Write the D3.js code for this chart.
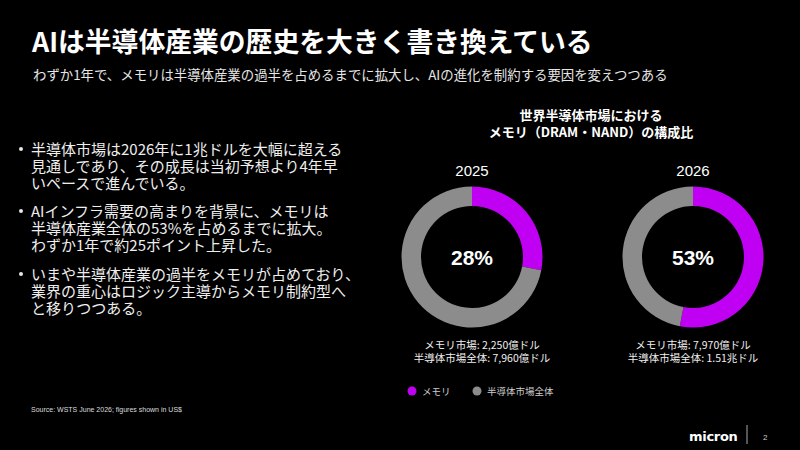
<!DOCTYPE html>
<html>
<head>
<meta charset="utf-8">
<script src="https://cdn.jsdelivr.net/npm/d3@7"></script>
<style>
  body { margin: 0; background: #000; }
  svg { display: block; }
  text { font-family: "Noto Sans CJK JP", "Noto Sans", sans-serif; fill: #fff; }
</style>
</head>
<body>
<div class="chart"></div>
<script>
var svgWidth = 800;
var svgHeight = 450;

// data
var years = ["2025", "2026"];
var memoryShare = [28, 53];
var memoryMarket = ["2,250億ドル", "7,970億ドル"];
var totalMarket = ["7,960億ドル", "1.51兆ドル"];
var legendLabels = ["メモリ", "半導体市場全体"];

var bullets = [
    ["半導体市場は2026年に1兆ドルを大幅に超える", "見通しであり、その成長は当初予想より4年早", "いペースで進んでいる。"],
    ["AIインフラ需要の高まりを背景に、メモリは", "半導体産業全体の53%を占めるまでに拡大。", "わずか1年で約25ポイント上昇した。"],
    ["いまや半導体産業の過半をメモリが占めており、", "業界の重心はロジック主導からメモリ制約型へ", "と移りつつある。"]
];

var svg = d3.select(".chart")
    .append("svg")
    .attr("width", svgWidth)
    .attr("height", svgHeight);

svg.append("rect").attr("width", svgWidth).attr("height", svgHeight).attr("fill", "#000");

// multi-line text as one <text> with tspans
function multiline(sel, lines, x, lh) {
    sel.selectAll("tspan")
        .data(lines)
        .enter()
        .append("tspan")
        .attr("x", x)
        .attr("dy", (d, i) => i === 0 ? 0 : lh)
        .text(d => d);
    return sel;
}

// headline + subtitle
svg.append("text")
    .attr("x", 32).attr("y", 52)
    .style("font-size", "26.8px").style("font-weight", "bold")
    .text("AIは半導体産業の歴史を大きく書き換えている");

svg.append("text")
    .attr("x", 33).attr("y", 80)
    .style("font-size", "13.4px").style("fill", "#e6e6e6")
    .text("わずか1年で、メモリは半導体産業の過半を占めるまでに拡大し、AIの進化を制約する要因を変えつつある");

// bullet list
var bulletTop = [155, 217, 280];
bullets.forEach(function (lines, i) {
    svg.append("circle")
        .attr("cx", 21).attr("cy", bulletTop[i] - 6)
        .attr("r", 2).attr("fill", "#e6e6e6");
    var t = svg.append("text")
        .attr("x", 31).attr("y", bulletTop[i])
        .style("font-size", "15px").style("fill", "#eeeeee");
    multiline(t, lines, 31, 16.8);
});

// chart title
var title = svg.append("text")
    .attr("x", 591).attr("y", 120)
    .attr("text-anchor", "middle")
    .style("font-size", "13px").style("font-weight", "bold");
multiline(title, ["世界半導体市場における", "メモリ（DRAM・NAND）の構成比"], 591, 17);

// donuts
var color = d3.scaleOrdinal()
    .domain(["memory", "rest"])
    .range(["#c000f2", "#8c8c8c"]);

var xPos = d3.scalePoint()
    .domain(years)
    .range([472, 693]);

var pie = d3.pie().sort(null).value(d => d.value);
var arc = d3.arc().innerRadius(51).outerRadius(70.5);

years.forEach(function (year, i) {
    var cx = xPos(year);
    var cy = 257;
    var g = svg.append("g").attr("transform", `translate(${cx}, ${cy})`);

    var slices = [
        { key: "memory", value: memoryShare[i] },
        { key: "rest", value: 100 - memoryShare[i] }
    ];

    g.selectAll("path")
        .data(pie(slices))
        .enter()
        .append("path")
        .attr("d", arc)
        .attr("fill", d => color(d.data.key));

    g.append("text")
        .attr("text-anchor", "middle")
        .attr("y", 8)
        .style("font-family", "Arial, 'Liberation Sans', sans-serif")
        .style("font-size", "21px").style("font-weight", "bold")
        .text(memoryShare[i] + "%");

    svg.append("text")
        .attr("x", cx).attr("y", 176)
        .attr("text-anchor", "middle")
        .style("font-family", "Arial, 'Liberation Sans', sans-serif")
        .style("font-size", "15px")
        .text(year);

    var tx = i === 0 ? cx + 10 : cx;
    var mt = svg.append("text")
        .attr("x", tx).attr("y", 349)
        .attr("text-anchor", "middle")
        .style("font-size", "10.5px").style("fill", "#eeeeee");
    multiline(mt, ["メモリ市場: " + memoryMarket[i], "半導体市場全体: " + totalMarket[i]], tx, 13);
});

// legend
var legendX = [412, 477];
legendLabels.forEach(function (label, i) {
    svg.append("circle")
        .attr("cx", legendX[i]).attr("cy", 391)
        .attr("r", 4.5)
        .attr("fill", color.range()[i]);
    svg.append("text")
        .attr("x", legendX[i] + 10).attr("y", 395)
        .style("font-size", "9.5px").style("fill", "#cccccc")
        .text(label);
});

// footer
svg.append("text")
    .attr("x", 31).attr("y", 412)
    .style("font-family", "'Liberation Sans Narrow', Arial, sans-serif")
    .style("font-size", "7px").style("fill", "#dddddd")
    .text("Source: WSTS June 2026; figures shown in US$");

svg.append("text")
    .attr("x", 689).attr("y", 441)
    .style("font-family", "'DejaVu Sans', sans-serif")
    .style("font-size", "13px").style("font-weight", "bold")
    .style("letter-spacing", "-0.3px")
    .text("micron");

svg.append("line")
    .attr("x1", 747).attr("x2", 747)
    .attr("y1", 425).attr("y2", 444)
    .attr("stroke", "#aaaaaa").attr("stroke-width", 1);

svg.append("text")
    .attr("x", 763).attr("y", 440)
    .style("font-family", "Arial, sans-serif")
    .style("font-size", "8px").style("fill", "#cccccc")
    .text("2");
</script>
</body>
</html>
